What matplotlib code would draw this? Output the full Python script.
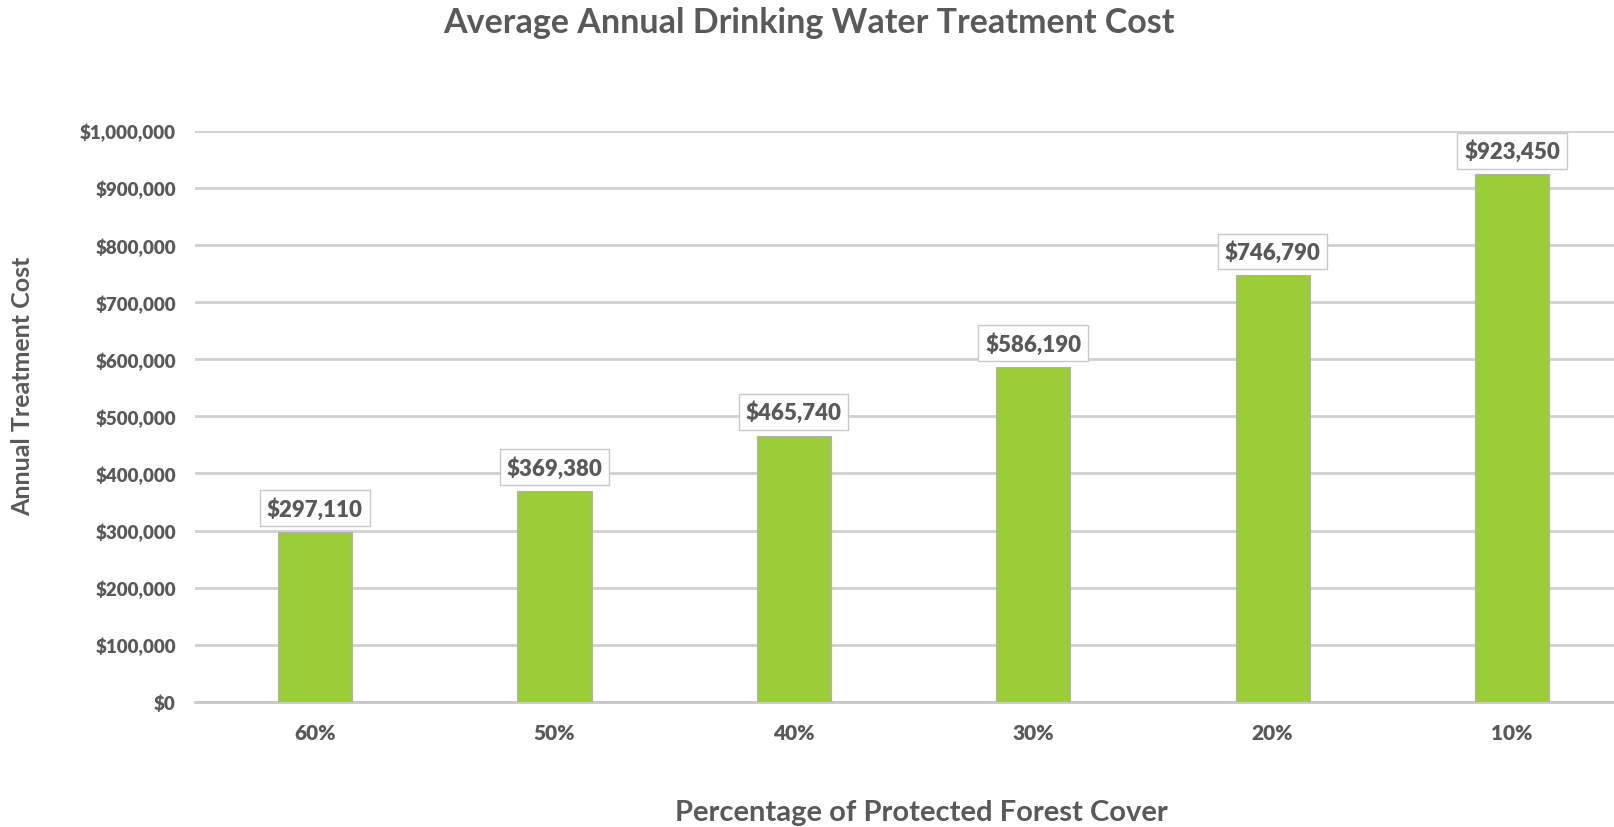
import matplotlib.pyplot as plt
from matplotlib.ticker import FuncFormatter

categories = ['60%', '50%', '40%', '30%', '20%', '10%']
costs = [297110, 369380, 465740, 586190, 746790, 923450]

text_col = '#595959'
plt.rcParams['font.family'] = ['Lato', 'DejaVu Sans']
plt.rcParams['font.weight'] = 'heavy'

fig = plt.figure(figsize=(16.14, 8.28), dpi=100)
ax = fig.add_axes([0.121, 0.151, 0.890, 0.690])

x = range(len(categories))
bars = ax.bar(x, costs, width=0.31, color='#9acd38', edgecolor='#b0b0b0', linewidth=0.8, zorder=3)

ax.set_xlim(-0.5, len(categories) - 0.5)
ax.set_ylim(0, 1000000)
ax.set_yticks(range(0, 1000001, 100000))
ax.yaxis.set_major_formatter(FuncFormatter(lambda v, p: '${:,.0f}'.format(v)))
ax.set_xticks(list(x))
ax.set_xticklabels(categories)
ax.grid(axis='y', color='#d0d0d0', linewidth=2, zorder=0)
for s in ['top', 'right', 'left']:
    ax.spines[s].set_visible(False)
ax.spines['bottom'].set_color('#c8c8c8')
ax.spines['bottom'].set_linewidth(2)
ax.tick_params(axis='both', length=0, labelcolor=text_col)
ax.tick_params(axis='y', labelsize=13.5, pad=14)
ax.tick_params(axis='x', labelsize=15, pad=15)

for xi, v in zip(x, costs):
    ax.annotate('${:,.0f}'.format(v), (xi, v), xytext=(0, 9), textcoords='offset points',
                ha='center', va='bottom', fontsize=16, color=text_col,
                bbox=dict(boxstyle='square,pad=0.3', fc='white', ec='#c8c8c8', lw=1), zorder=5)

fig.text(0.501, 0.972, 'Average Annual Drinking Water Treatment Cost', ha='center', va='center',
         fontsize=24.5, fontweight='bold', color=text_col)
fig.text(0.014, 0.534, 'Annual Treatment Cost', rotation=90, ha='center', va='center',
         fontsize=18, fontweight='bold', color=text_col)
fig.text(0.571, 0.018, 'Percentage of Protected Forest Cover', ha='center', va='center',
         fontsize=21, fontweight='bold', color=text_col)

fig.savefig('out.png', dpi=100)
